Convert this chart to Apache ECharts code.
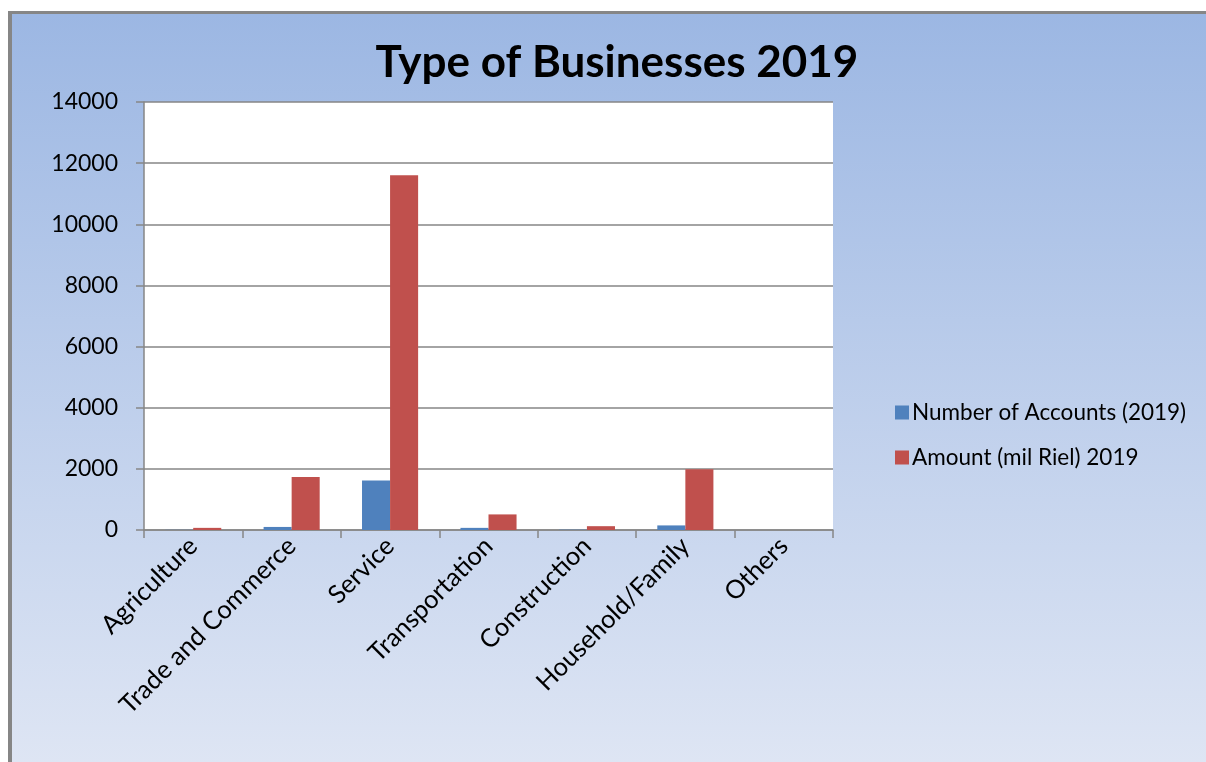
<!DOCTYPE html>
<html>
<head>
<meta charset="utf-8">
<script src="https://cdn.jsdelivr.net/npm/echarts@6/dist/echarts.min.js"></script>
<style>
html,body{margin:0;padding:0;background:#fff;width:1206px;height:762px;overflow:hidden;}
#frame{position:absolute;left:8px;top:11px;width:1210px;height:760px;border-left:4px solid #868686;border-top:3px solid #868686;background:linear-gradient(to bottom,#9cb7e3 0%,#dfe6f4 100%);}
#chart{position:absolute;left:0;top:0;width:1206px;height:762px;}
</style>
</head>
<body>
<div id="frame"></div>
<div id="chart"></div>
<script>
const categories = ["Agriculture","Trade and Commerce","Service","Transportation","Construction","Household/Family","Others"];
const accounts2019 = [5, 100, 1620, 70, 10, 150, 0];
const amount2019 = [70, 1730, 11600, 510, 125, 1990, 0];
const yTicks = {min:0, max:14000, interval:2000};
const seriesNames = ["Number of Accounts (2019)","Amount (mil Riel) 2019"];

const chart = echarts.init(document.getElementById('chart'), null, {renderer:'canvas'});
const font = 'Lato, "Open Sans", sans-serif';
chart.setOption({
  backgroundColor:'transparent',
  animation:false,
  title:{text:'Type of Businesses 2019',left:612,top:36,textAlign:'center',textStyle:{fontFamily:font,fontSize:44,fontWeight:'bold',color:'#000'}},
  legend:{orient:'vertical',left:890,top:396,itemWidth:14,itemHeight:14,itemGap:22,icon:'rect',
    textStyle:{fontFamily:font,fontSize:22.5,color:'#000',padding:[0,0,0,-2]},data:seriesNames},
  grid:{left:144,right:373,top:102,bottom:232,backgroundColor:'#fff',show:true,borderWidth:0},
  xAxis:{type:'category',data:categories,
    axisLine:{lineStyle:{color:'#868686',width:1.5}},
    axisTick:{show:true,length:8,lineStyle:{color:'#868686',width:1.5}},
    axisLabel:{rotate:45,fontFamily:font,fontSize:25.5,color:'#000',margin:12,interval:0}},
  yAxis:{type:'value',min:yTicks.min,max:yTicks.max,interval:yTicks.interval,
    axisLine:{show:true,lineStyle:{color:'#868686',width:1.5}},
    axisTick:{show:true,length:8,lineStyle:{color:'#868686',width:1.5}},
    axisLabel:{fontFamily:font,fontSize:23,color:'#000',margin:26,formatter:v=>String(v)},
    splitLine:{lineStyle:{color:'#868686',width:1.5}}},
  series:[
    {name:seriesNames[0],type:'bar',data:accounts2019,barGap:'0%',barCategoryGap:'43%',itemStyle:{color:'#4f81bd'}},
    {name:seriesNames[1],type:'bar',data:amount2019,itemStyle:{color:'#c0504d'}}
  ]
});
</script>
</body>
</html>
